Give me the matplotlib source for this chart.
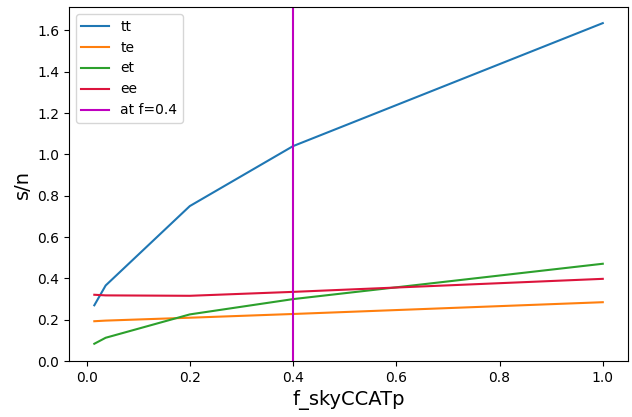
import matplotlib
matplotlib.use("Agg")
import matplotlib.pyplot as plt

# sky fraction and signal-to-noise per spectrum
f_sky = [0.015, 0.037, 0.2, 0.4, 1.0]
sn_tt = [0.27, 0.366, 0.75, 1.04, 1.635]
sn_te = [0.193, 0.196, 0.21, 0.228, 0.285]
sn_et = [0.084, 0.113, 0.226, 0.30, 0.471]
sn_ee = [0.321, 0.318, 0.316, 0.335, 0.398]
f_mark = 0.4

fig = plt.figure(figsize=(6.32, 4.17), dpi=100)
ax = fig.add_axes([0.109, 0.134, 0.885, 0.849])

ax.plot(f_sky, sn_tt, color="#1f77b4", label="tt")
ax.plot(f_sky, sn_te, color="#ff7f0e", label="te")
ax.plot(f_sky, sn_et, color="#2ca02c", label="et")
ax.plot(f_sky, sn_ee, color="crimson", label="ee")
ax.axvline(f_mark, color="m", label="at f=0.4")

ax.set_ylim(bottom=0)
ax.set_xlabel("f_skyCCATp", fontsize=14)
ax.set_ylabel("s/n", fontsize=14)
ax.legend(loc="upper left")

fig.savefig("out.png", dpi=100)
